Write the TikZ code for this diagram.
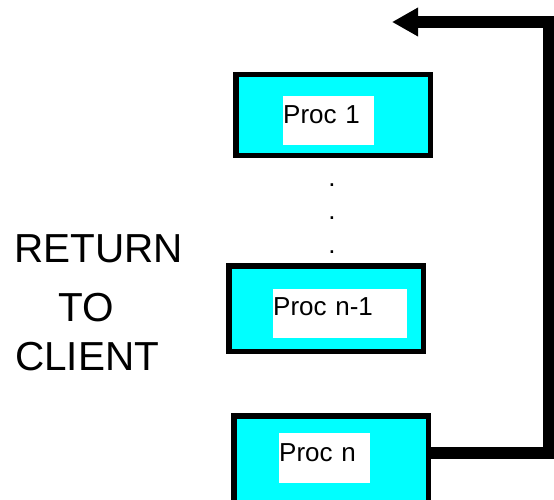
\documentclass[tikz,border=0pt]{standalone}
\usepackage{fontspec}
\setmainfont{Liberation Sans}
\usepackage{tikz}
\usetikzlibrary{arrows.meta}
\definecolor{procfill}{RGB}{0,255,255}

\begin{document}
\begin{tikzpicture}[x=1pt, y=-1pt,
    procbox/.style={draw=black, fill=procfill, line width=5.5pt, inner sep=0pt,
        minimum width=194.5pt},
    proclabel/.style={fill=white, inner sep=0pt, anchor=north west, align=left,
        font=\fontsize{26}{26}\selectfont, text depth=22pt},
    bigtext/.style={anchor=base west, inner sep=0pt, font=\fontsize{40.5}{40.5}\selectfont},
    backarrow/.style={line width=12pt, line join=miter,
        -{Triangle[length=26pt, width=27pt]}}]
    \useasboundingbox (0,0) rectangle (554,500);

    % Proc 1
    \node[procbox, minimum height=80.5pt] (p1) at (333,115) {};
    \node[proclabel, text width=91pt, text height=27pt] (p1txt) at (283,96) {Proc 1};

    % dots between the boxes
    \foreach \y [count=\i] in {186.5, 219.5, 253.5}
        \node[anchor=base, inner sep=0pt, font=\fontsize{26}{26}\selectfont] (dot\i) at (332,\y) {.};

    % Proc n-1
    \node[procbox, minimum height=85.5pt] (p2) at (326,308.5) {};
    \node[proclabel, text width=134pt, text height=26pt, text depth=23pt] (p2txt) at (273,289) {Proc n-1};

    % Proc n
    \node[procbox, minimum height=86.5pt] (p3) at (331,459) {};
    \node[proclabel, text width=91pt, text height=28pt] (p3txt) at (279,433) {Proc n};

    % back to the client
    \coordinate (turn) at (549,22);
    \coordinate (back) at (392,22);
    \draw[backarrow] ([yshift=6pt]p3.east) -| (turn) -- (back);

    \node[bigtext] (ret) at (14,262) {RETURN};
    \node[bigtext] (to) at (58,321) {TO};
    \node[bigtext] (client) at (15,370) {CLIENT};
\end{tikzpicture}
\end{document}
